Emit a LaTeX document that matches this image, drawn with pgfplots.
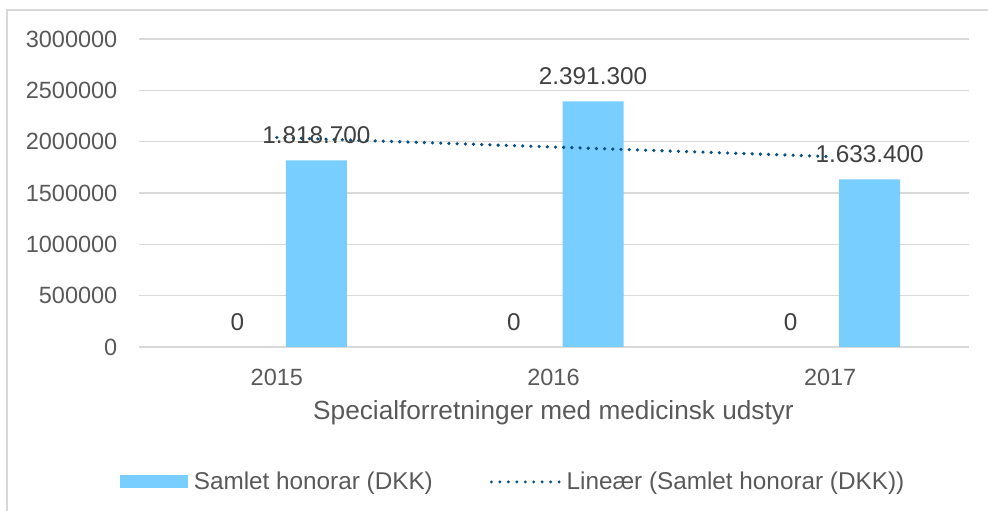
\documentclass[border=0pt]{standalone}
\usepackage{fontspec}
\setmainfont{Liberation Sans}
\usepackage{pgfplots}
\pgfplotsset{compat=1.18}
\definecolor{barblue}{RGB}{120,207,255}
\definecolor{trendcol}{RGB}{10,78,128}
\definecolor{gridc}{RGB}{217,217,217}
\definecolor{tickc}{RGB}{89,89,89}
\definecolor{labc}{RGB}{64,64,64}
\newcommand\fs{\fontsize{23.5}{28}\selectfont}
\newcommand\fd{\fontsize{24.3}{29}\selectfont}
\newcommand\fx{\fontsize{26.2}{31}\selectfont}
\begin{document}
\begin{tikzpicture}[x=1pt,y=1pt]
\useasboundingbox (0,0) rectangle (988,511);
\draw[gridc, line width=1.5pt] (7,-5) -- (7,501) -- (995,501);
\begin{axis}[
  at={(138.5pt,164pt)}, anchor=south west,
  scale only axis, width=830pt, height=308pt,
  xmin=-0.5, xmax=2.5, ymin=0, ymax=3000000,
  xtick={0,1,2}, xticklabels={2015,2016,2017},
  ytick={0,500000,1000000,1500000,2000000,2500000,3000000},
  major tick length=0pt,
  axis line style={draw=none},
  ymajorgrids, grid style={gridc, line width=1.4pt},
  scaled y ticks=false,
  /pgf/number format/assume math mode=true,
  yticklabel={\pgfmathprintnumber[fixed,precision=0,set thousands separator={}]{\tick}},
  tick label style={font=\fs, text=tickc},
  yticklabel style={anchor=east, inner sep=0pt, xshift=-21pt},
  xticklabel style={anchor=center, inner sep=0pt, yshift=-30pt},
  xlabel={Specialforretninger med medicinsk udstyr},
  xlabel style={font=\fx, text=tickc, at={(axis description cs:0.5,0)}, anchor=center, inner sep=0pt, yshift=-66pt},
  legend columns=2,
  legend style={draw=none, fill=none, font=\fd, text=tickc, inner sep=0pt, outer sep=0pt,
    at={(axis description cs:-0.0225,-0.438)}, anchor=west,
    nodes={inner sep=0pt, anchor=west},
    /tikz/every odd column/.append style={column sep=6pt},
    /tikz/every even column/.append style={column sep=57pt}},
  clip=false,
]
\addplot[ybar, bar width=61pt, bar shift=0pt, draw=none, fill=none, forget plot,
  point meta=explicit symbolic, nodes near coords,
  every node near coord/.append style={font=\fd, text=labc, anchor=center, inner sep=0pt, yshift=25pt}]
  coordinates {(-0.1428,0) [0] (0.8572,0) [0] (1.8572,0) [0]};
\addplot[ybar, bar width=61pt, bar shift=0pt, draw=none, fill=barblue,
  point meta=explicit symbolic, nodes near coords,
  every node near coord/.append style={font=\fd, text=labc, anchor=center, inner sep=0pt, yshift=25pt},
  legend image code/.code={\fill[barblue] (0pt,-6.5pt) rectangle (68pt,6.5pt);}]
  coordinates {(0.1428,1818700) [1.818.700] (1.1428,2391300) [2.391.300] (2.1428,1633400) [1.633.400]};
\addlegendentry{Samlet honorar (DKK)}
\addplot[trendcol, line width=3.6pt, dash pattern=on 0pt off 8.2pt, line cap=round,
  legend image code/.code={\draw[trendcol, line width=3.2pt, dash pattern=on 0pt off 8.45pt, line cap=round] (1.6pt,0pt) -- (69.2pt,0pt);}]
  coordinates {(0,2040450) (2,1855150)};
\addlegendentry{Lineær (Samlet honorar (DKK))}
\end{axis}
\end{tikzpicture}
\end{document}
